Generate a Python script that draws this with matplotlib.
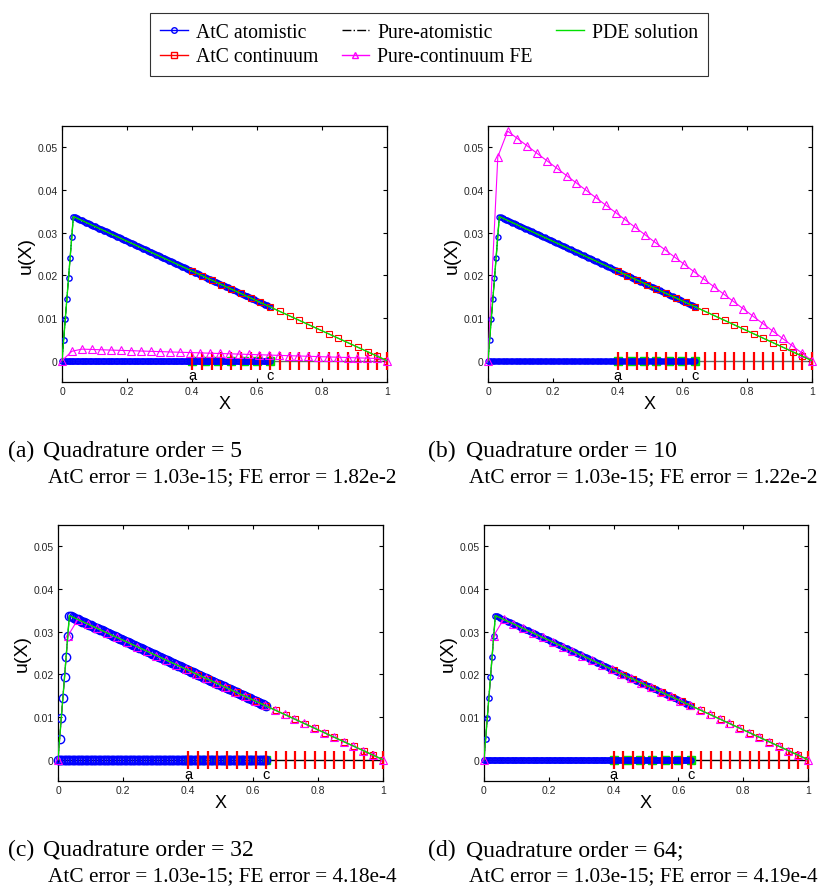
import numpy as np
import matplotlib
matplotlib.use("Agg")
import matplotlib.pyplot as plt
from matplotlib.lines import Line2D

# ---- atomistic region: lattice spacing and displacement of each atom ----
ATOM_SPACING = 0.005
ATOM_U = [
    0.0, 0.004825, 0.00965, 0.014475, 0.0193, 0.024125, 0.02895, 0.033775,
    0.0336, 0.033425, 0.03325, 0.033075, 0.0329, 0.032725, 0.03255, 0.032375,
    0.0322, 0.032025, 0.03185, 0.031675, 0.0315, 0.031325, 0.03115, 0.030975,
    0.0308, 0.030625, 0.03045, 0.030275, 0.0301, 0.029925, 0.02975, 0.029575,
    0.0294, 0.029225, 0.02905, 0.028875, 0.0287, 0.028525, 0.02835, 0.028175,
    0.028, 0.027825, 0.02765, 0.027475, 0.0273, 0.027125, 0.02695, 0.026775,
    0.0266, 0.026425, 0.02625, 0.026075, 0.0259, 0.025725, 0.02555, 0.025375,
    0.0252, 0.025025, 0.02485, 0.024675, 0.0245, 0.024325, 0.02415, 0.023975,
    0.0238, 0.023625, 0.02345, 0.023275, 0.0231, 0.022925, 0.02275, 0.022575,
    0.0224, 0.022225, 0.02205, 0.021875, 0.0217, 0.021525, 0.02135, 0.021175,
    0.021, 0.020825, 0.02065, 0.020475, 0.0203, 0.020125, 0.01995, 0.019775,
    0.0196, 0.019425, 0.01925, 0.019075, 0.0189, 0.018725, 0.01855, 0.018375,
    0.0182, 0.018025, 0.01785, 0.017675, 0.0175, 0.017325, 0.01715, 0.016975,
    0.0168, 0.016625, 0.01645, 0.016275, 0.0161, 0.015925, 0.01575, 0.015575,
    0.0154, 0.015225, 0.01505, 0.014875, 0.0147, 0.014525, 0.01435, 0.014175,
    0.014, 0.013825, 0.01365, 0.013475, 0.0133, 0.013125, 0.01295, 0.012775,
    0.0126,
]

# ---- AtC continuum nodes (handshake region a..c and beyond) ----
NODE_X = [0.40, 0.43, 0.46, 0.49, 0.52, 0.55, 0.58, 0.61, 0.64, 0.67, 0.70,
          0.73, 0.76, 0.79, 0.82, 0.85, 0.88, 0.91, 0.94, 0.97, 1.00]
NODE_U = [0.021, 0.01995, 0.0189, 0.01785, 0.0168, 0.01575, 0.0147, 0.01365,
          0.0126, 0.01155, 0.0105, 0.00945, 0.0084, 0.00735, 0.0063, 0.00525,
          0.0042, 0.00315, 0.0021, 0.00105, 0.0]

# pad atoms in the overlap region
PAD_X = [0.40, 0.44, 0.48, 0.52, 0.56, 0.60, 0.64]

# ---- exact PDE solution (point load) ----
PDE_X = [0.0, 0.035, 1.0]
PDE_U = [0.0, 0.033775, 0.0]

# ---- pure continuum FE mesh and solutions for each quadrature order ----
FE_X = [0.0, 0.0303, 0.0606, 0.0909, 0.1212, 0.1515, 0.1818, 0.2121, 0.2424,
        0.2727, 0.3030, 0.3333, 0.3636, 0.3939, 0.4242, 0.4545, 0.4848,
        0.5152, 0.5455, 0.5758, 0.6061, 0.6364, 0.6667, 0.6970, 0.7273,
        0.7576, 0.7879, 0.8182, 0.8485, 0.8788, 0.9091, 0.9394, 0.9697, 1.0]
FE_U_5 = [0.0, 0.0022, 0.0027, 0.00263, 0.00255, 0.00248, 0.00241, 0.00234,
          0.00226, 0.00219, 0.00212, 0.00204, 0.00197, 0.0019, 0.00183,
          0.00175, 0.00168, 0.00161, 0.00154, 0.00146, 0.00139, 0.00132,
          0.00124, 0.00117, 0.0011, 0.00103, 0.00095, 0.00088, 0.00081,
          0.00073, 0.00066, 0.00059, 0.00052, 0.0]
FE_U_10 = [0.0, 0.0478, 0.0538, 0.05206, 0.05033, 0.04859, 0.04686, 0.04512,
           0.04339, 0.04165, 0.03992, 0.03818, 0.03645, 0.03471, 0.03298,
           0.03124, 0.02951, 0.02776, 0.02603, 0.02429, 0.02256, 0.02082,
           0.01909, 0.01735, 0.01562, 0.01388, 0.01215, 0.01041, 0.00868,
           0.00694, 0.00521, 0.00347, 0.00174, 0.0]
FE_U_32 = [0.0, 0.029, 0.0328, 0.03182, 0.03076, 0.0297, 0.02864, 0.02758,
           0.02652, 0.02546, 0.0244, 0.02333, 0.02227, 0.02121, 0.02015,
           0.01909, 0.01803, 0.01697, 0.01591, 0.01485, 0.01379, 0.01273,
           0.01167, 0.01061, 0.00955, 0.00848, 0.00742, 0.00636, 0.0053,
           0.00424, 0.00318, 0.00212, 0.00106, 0.0]
FE_U_64 = [0.0, 0.0291, 0.0329, 0.03182, 0.03076, 0.0297, 0.02864, 0.02758,
           0.02652, 0.02546, 0.0244, 0.02333, 0.02227, 0.02121, 0.02015,
           0.01909, 0.01803, 0.01697, 0.01591, 0.01485, 0.01379, 0.01273,
           0.01167, 0.01061, 0.00955, 0.00848, 0.00742, 0.00636, 0.0053,
           0.00424, 0.00318, 0.00212, 0.00106, 0.0]

FE_SOLUTIONS = [FE_U_5, FE_U_10, FE_U_32, FE_U_64]
TAGS = ["(a)", "(b)", "(c)", "(d)"]
TITLES = ["Quadrature order = 5", "Quadrature order = 10",
          "Quadrature order = 32", "Quadrature order = 64;"]
ATC_ERR = "1.03e-15"
FE_ERRS = ["1.82e-2", "1.22e-2", "4.18e-4", "4.19e-4"]

XTICKS = [0, 0.2, 0.4, 0.6, 0.8, 1.0]
XTICKLABELS = ["0", "0.2", "0.4", "0.6", "0.8", "1"]
YTICKS = [0, 0.01, 0.02, 0.03, 0.04, 0.05]
YTICKLABELS = ["0", "0.01", "0.02", "0.03", "0.04", "0.05"]

BLUE, RED, MAG, GREEN = "#0000ff", "#ff0000", "#ff00ff", "#00e000"
SANS = "Liberation Sans"
SERIF = "Liberation Serif"

W, H = 840, 887
fig = plt.figure(figsize=(W / 100, H / 100), dpi=100)


def px_rect(l, t, r, b):
    return [l / W, 1 - b / H, (r - l) / W, (b - t) / H]


# panel boxes in pixels: left, top, right, bottom
BOXES = [(62, 127, 387, 383), (488, 127, 812, 383),
         (58, 526, 383, 782), (484, 526, 808, 782)]
ATOM_MS = [3.8, 3.6, 6.0, 3.8]
REF_COLOR = ["0.4", "0.4", "k", "k"]
# caption anchors (pixels): tag x, title x, error x, baseline 1, baseline 2
CAP = [(8, 43, 48, 457, 482), (428, 466, 469, 457, 482),
       (8, 43, 48, 856, 881), (428, 466, 469, 856, 881)]

atom_x = ATOM_SPACING * np.arange(len(ATOM_U))
zero_atoms = np.zeros(len(atom_x))

for i in range(4):
    ax = fig.add_axes(px_rect(*BOXES[i]))
    ms = ATOM_MS[i]

    # reference configuration along u = 0
    ax.axhline(0, color=REF_COLOR[i], lw=1.0, zorder=1)
    ax.plot(PAD_X, np.zeros(len(PAD_X)), "s", color=GREEN, mfc=GREEN,
            ms=6.0, zorder=2, clip_on=False)
    ax.plot(atom_x, zero_atoms, "o", color=BLUE, mfc="none", ms=ms,
            mew=1.0, zorder=3, clip_on=False)
    ax.plot(NODE_X, np.zeros(len(NODE_X)), "|", color=RED, ms=12.5, mew=1.6,
            zorder=4, clip_on=False)

    # displacement solutions
    ax.plot(atom_x, ATOM_U, "-o", color=BLUE, mfc="none", ms=ms, mew=1.0,
            lw=0.6, zorder=5)
    ax.plot(NODE_X, NODE_U, "-s", color=RED, mfc="none", ms=4.8, mew=0.8,
            lw=0.6, zorder=6)
    ax.plot(atom_x, ATOM_U, "-.", color="k", lw=0.8, zorder=7)
    ax.plot(FE_X, FE_SOLUTIONS[i], "-^", color=MAG, mfc="none", ms=5.5,
            mew=0.8, lw=0.8, zorder=8, clip_on=False)
    ax.plot(PDE_X, PDE_U, "-", color=GREEN, lw=1.0, zorder=9)

    ax.text(0.4, -0.0034, "a", ha="center", va="center", fontsize=10.5,
            family=SANS, zorder=10)
    ax.text(0.64, -0.0034, "c", ha="center", va="center", fontsize=10.5,
            family=SANS, zorder=10)

    ax.set_xlim(0, 1)
    ax.set_ylim(-0.005, 0.055)
    ax.set_xticks(XTICKS)
    ax.set_xticklabels(XTICKLABELS, family=SANS, fontsize=7.5, color="#262626")
    ax.set_yticks(YTICKS)
    ax.set_yticklabels(YTICKLABELS, family=SANS, fontsize=7.5, color="#262626")
    ax.tick_params(direction="in", length=3, width=0.8, top=True, right=True,
                   pad=3)
    for sp in ax.spines.values():
        sp.set_linewidth(0.9)
    ax.set_xlabel("X", family=SANS, fontsize=13, labelpad=-1)
    ax.set_ylabel("u(X)", family=SANS, fontsize=14, labelpad=2)

    tx, qx, ex, y1, y2 = CAP[i]
    fig.text(tx / W, 1 - y1 / H, TAGS[i], family=SERIF, fontsize=17,
             va="baseline")
    fig.text(qx / W, 1 - y1 / H, TITLES[i], family=SERIF, fontsize=17,
             va="baseline")
    fig.text(ex / W, 1 - y2 / H,
             "AtC error = %s; FE error = %s" % (ATC_ERR, FE_ERRS[i]),
             family=SERIF, fontsize=15.3, va="baseline")

handles = [
    Line2D([], [], color=BLUE, marker="o", mfc="none", ms=4, lw=1),
    Line2D([], [], color=RED, marker="s", mfc="none", ms=4, lw=1),
    Line2D([], [], color="k", ls="-.", lw=1),
    Line2D([], [], color=MAG, marker="^", mfc="none", ms=4, lw=1),
    Line2D([], [], color=GREEN, lw=1),
]
labels = ["AtC atomistic", "AtC continuum", "Pure-atomistic",
          "Pure-continuum FE", "PDE solution"]
leg = fig.legend(handles, labels, ncol=3, loc="center",
                 bbox_to_anchor=(429 / W, 1 - 45.5 / H),
                 prop={"family": SERIF, "size": 14.2}, frameon=True,
                 fancybox=False, edgecolor="k", handlelength=1.4,
                 handletextpad=0.4, columnspacing=1.2, labelspacing=0.3,
                 borderpad=0.5, borderaxespad=0)
leg.get_frame().set_linewidth(0.8)

fig.savefig("out.png", dpi=100)
plt.close(fig)
